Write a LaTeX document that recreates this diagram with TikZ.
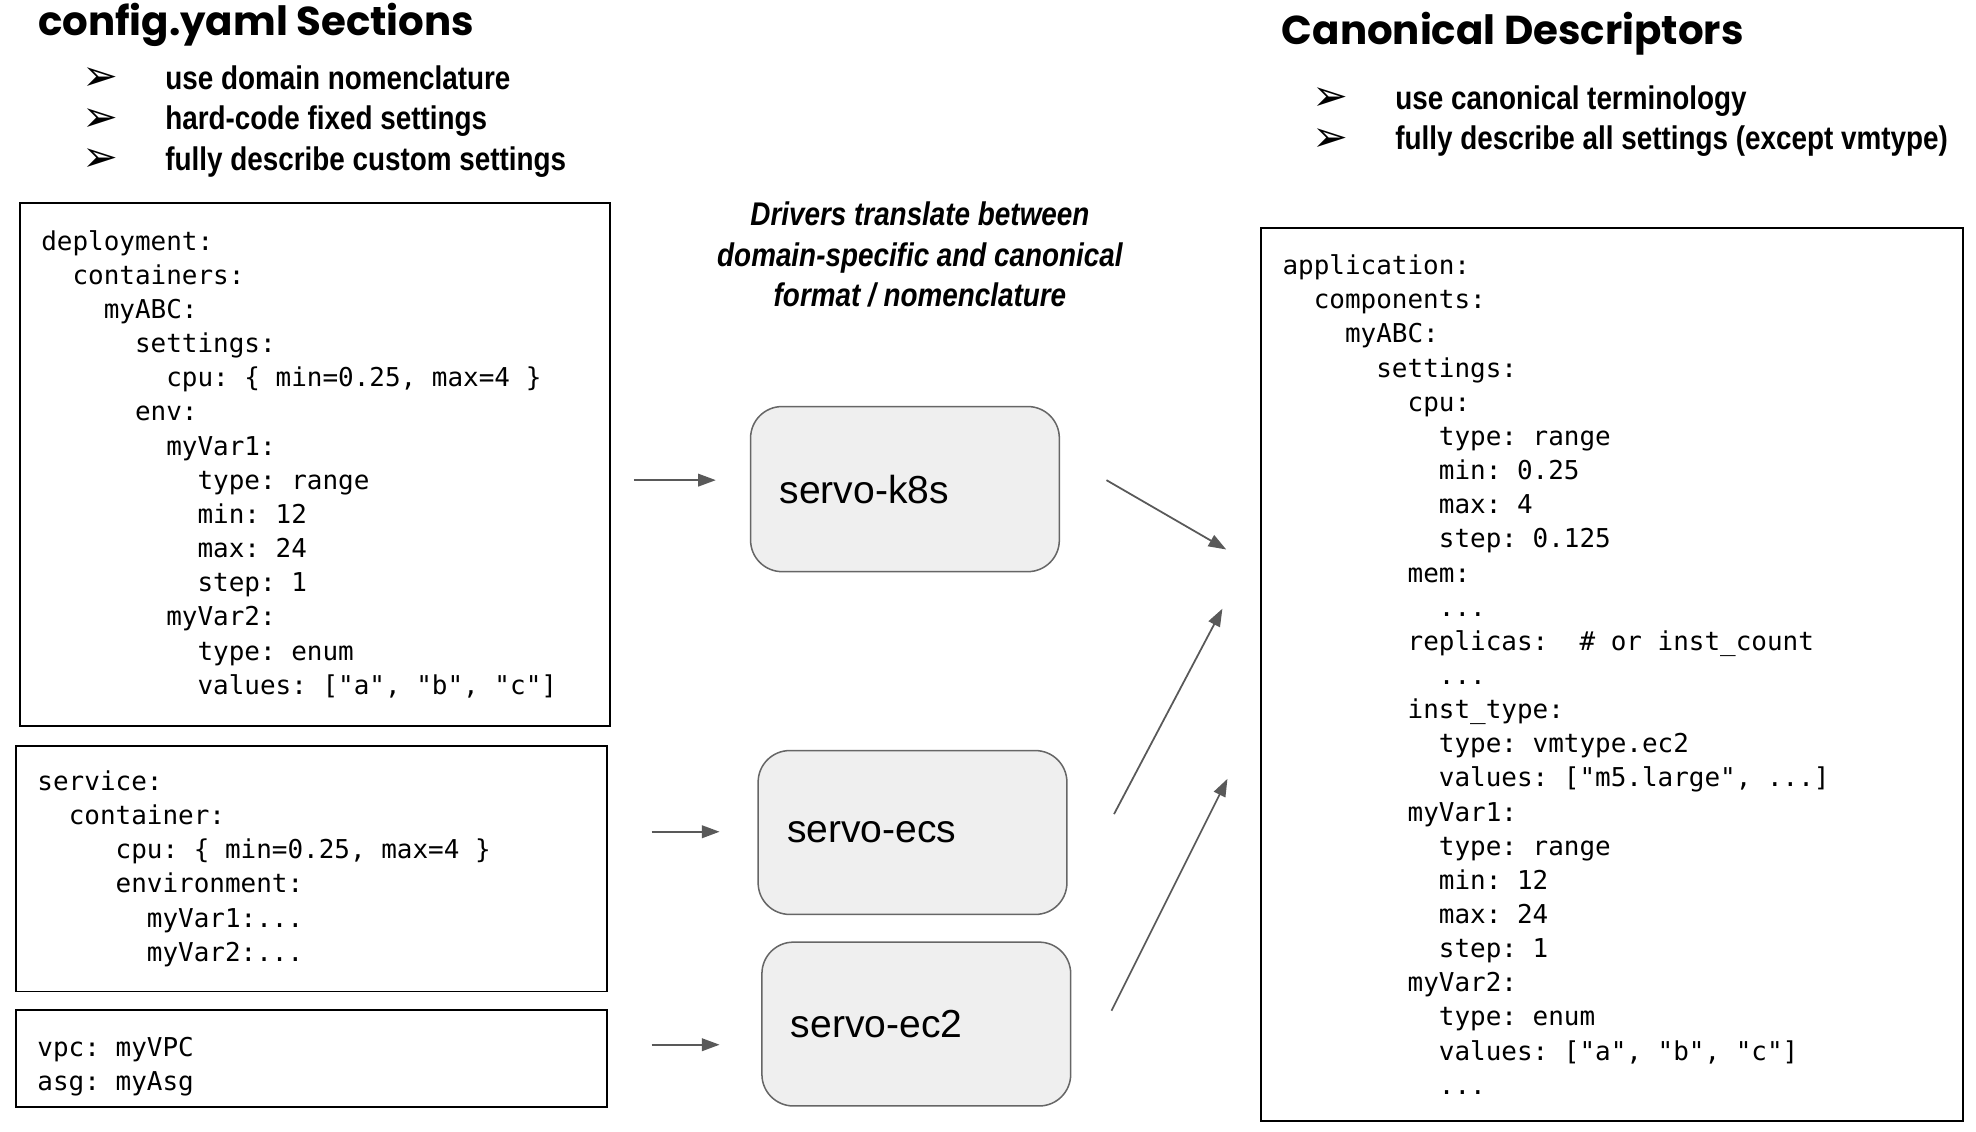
\documentclass[tikz,border=0pt]{standalone}
\usepackage{fontspec}
\setmainfont{Liberation Sans}
\newfontfamily\codefont{DejaVu Sans Mono}
\newfontfamily\headfont{Poppins}
\newfontfamily\narrowfont{Liberation Sans}[FakeStretch=0.85]
\newfontfamily\symfont{DejaVu Sans}
\usetikzlibrary{positioning,arrows.meta}
\definecolor{flowgrey}{HTML}{595959}
\definecolor{servofill}{HTML}{EFEFEF}
\definecolor{servoline}{HTML}{666666}
\newcommand{\pad}[1]{\hspace*{#1\fontcharwd\font`0}}
\newcommand{\codespaces}{\spaceskip=\fontcharwd\font`0\relax\xspaceskip=\spaceskip}
\begin{document}
\begin{tikzpicture}[x=1pt,y=-1pt,
    heading/.style={anchor=base west,inner sep=0pt,font=\headfont\bfseries\fontsize{32}{36}\selectfont},
    bullet/.style={anchor=base west,inner sep=0pt,font=\symfont\fontsize{34}{36}\selectfont},
    point/.style={anchor=base west,inner sep=0pt,font=\narrowfont\bfseries\fontsize{26}{30}\selectfont},
    codebox/.style={draw,line width=1.5pt,anchor=north west,align=left,inner xsep=17pt,inner ysep=0pt,
        font=\codefont\fontsize{20.6}{27.1}\selectfont,execute at begin node=\codespaces},
    servo/.style={draw=servoline,fill=servofill,line width=1.2pt,rounded corners=25pt,anchor=north west,
        minimum height=131pt,inner xsep=23pt,text width=199pt,align=left,font=\fontsize{31}{36}\selectfont},
    flow/.style={draw=flowgrey,line width=1.4pt,-{Triangle[length=14pt,width=10pt]}}]
    \useasboundingbox (0,0) rectangle (1568,898);

    % left column: config.yaml
    \node[heading] (titleL) at (30,28) {config.yaml Sections};
    \node[bullet] (bL1) at (65,72) {➢};
    \node[point] (pL1) at (131,71) {use domain nomenclature};
    \node[bullet] (bL2) at (65,104) {➢};
    \node[point] (pL2) at (131,103) {hard-code fixed settings};
    \node[bullet] (bL3) at (65,136) {➢};
    \node[point] (pL3) at (131,135) {fully describe custom settings};

    \node[codebox,text width=434pt,minimum height=415pt] (deploy) at (15,160) {deployment:\\
\pad{2}containers:\\
\pad{4}myABC:\\
\pad{6}settings:\\
\pad{8}cpu: \{ min=0.25, max=4 \}\\
\pad{6}env:\\
\pad{8}myVar1:\\
\pad{10}type: range\\
\pad{10}min: 12\\
\pad{10}max: 24\\
\pad{10}step: 1\\
\pad{8}myVar2:\\
\pad{10}type: enum\\
\pad{10}values: ["a", "b", "c"]};
    \node[codebox,text width=435pt,minimum height=195pt] (service) at (12,591) {service:\\
\pad{2}container:\\
\pad{5}cpu: \{ min=0.25, max=4 \}\\
\pad{5}environment:\\
\pad{7}myVar1:...\\
\pad{7}myVar2:...};
    \node[codebox,text width=435pt,minimum height=77pt,text height=28pt] (vpc) at (12,801) {vpc: myVPC\\
asg: myAsg};

    % middle: drivers
    \node[align=center,font=\narrowfont\bfseries\itshape\fontsize{26}{32}\selectfont] (caption) at (730,202)
        {Drivers translate between\\ domain-specific and canonical\\ format / nomenclature};
    \node[servo] (k8s) at (595,322) {servo-k8s};
    \node[servo,minimum height=130pt] (ecs) at (601,595) {servo-ecs};
    \node[servo,minimum height=130pt] (ec2) at (604,747) {servo-ec2};

    % right column: canonical descriptors
    \node[heading] (titleR) at (1017,35) {Canonical Descriptors};
    \node[bullet] (bR1) at (1041,88) {➢};
    \node[point] (pR1) at (1107,87) {use canonical terminology};
    \node[bullet] (bR2) at (1041,120) {➢};
    \node[point] (pR2) at (1107,119) {fully describe all settings (except vmtype)};

    \node[codebox,text width=523pt,minimum height=709pt] (canon) at (1000,180) {application:\\
\pad{2}components:\\
\pad{4}myABC:\\
\pad{6}settings:\\
\pad{8}cpu:\\
\pad{10}type: range\\
\pad{10}min: 0.25\\
\pad{10}max: 4\\
\pad{10}step: 0.125\\
\pad{8}mem:\\
\pad{10}...\\
\pad{8}replicas:\pad{2}\# or inst\_count\\
\pad{10}...\\
\pad{8}inst\_type:\\
\pad{10}type: vmtype.ec2\\
\pad{10}values: ["m5.large", ...]\\
\pad{8}myVar1:\\
\pad{10}type: range\\
\pad{10}min: 12\\
\pad{10}max: 24\\
\pad{10}step: 1\\
\pad{8}myVar2:\\
\pad{10}type: enum\\
\pad{10}values: ["a", "b", "c"]\\
\pad{10}...};

    % connector ends
    \coordinate (deploy out) at (503,381);
    \coordinate (k8s in) at (568,381);
    \coordinate (service out) at (517,660);
    \coordinate (ecs in) at (571,660);
    \coordinate (vpc out) at (517,829);
    \coordinate (ec2 in) at (571,829);
    \coordinate (k8s out) at (878,381);
    \coordinate (ecs out) at (884,646);
    \coordinate (ec2 out) at (882,802);
    \coordinate (canon in1) at (973,436);
    \coordinate (canon in2) at (970,483);
    \coordinate (canon in3) at (974,618);

    \path
        (deploy out) edge[flow] (k8s in)
        (service out) edge[flow] (ecs in)
        (vpc out) edge[flow] (ec2 in)
        (k8s out) edge[flow] (canon in1)
        (ecs out) edge[flow] (canon in2)
        (ec2 out) edge[flow] (canon in3)
        ;
\end{tikzpicture}
\end{document}
